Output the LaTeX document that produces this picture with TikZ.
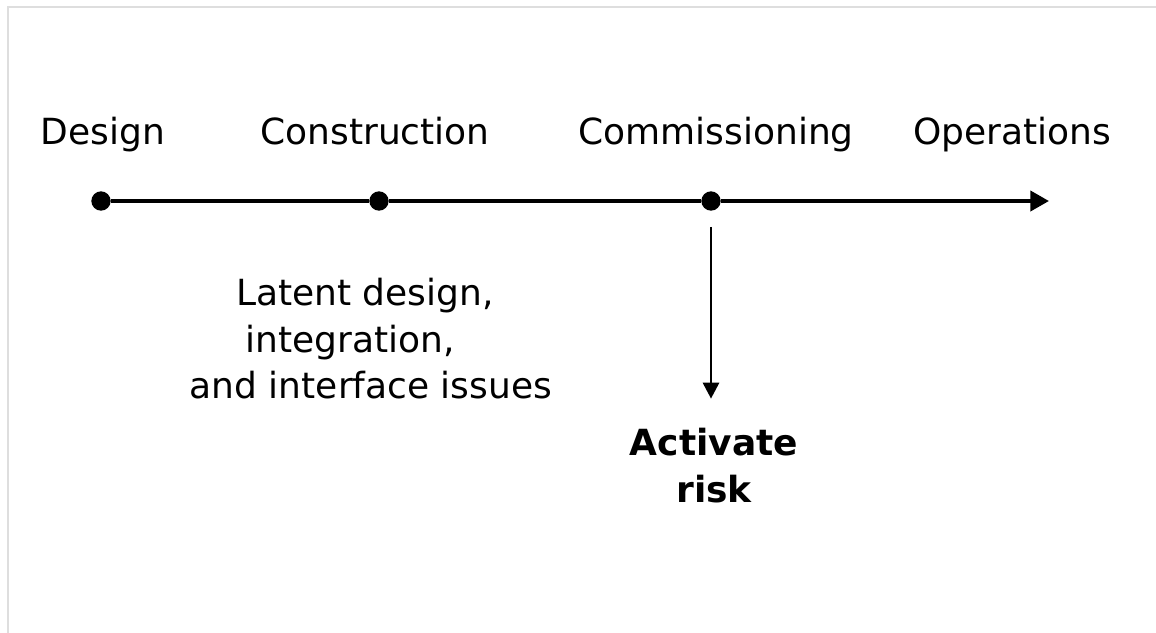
\documentclass[tikz,border=0pt]{standalone}
\usepackage{fontspec}
\setmainfont{DejaVu Sans}
\usepackage{xcolor}
\usetikzlibrary{arrows.meta}

\definecolor{framegray}{RGB}{222,222,222}

\tikzset{
  phase/.style={anchor=base, inner sep=0.75pt, font=\fontsize{27}{35}\selectfont},
  dot/.style={circle, fill=black, inner sep=0pt, minimum size=14.5pt},
  note/.style={anchor=north, inner sep=0pt, align=center, font=\fontsize{27}{35}\selectfont},
}

\begin{document}
\begin{tikzpicture}[x=0.75pt,y=0.75pt,yscale=-1,xscale=1]
\useasboundingbox (0,0) rectangle (1156,632);

%Shape: Frame
\draw [color=framegray, line width=1.5pt] (7.5,650) -- (7.5,7) -- (1170,7) ;

% Text Node
\node (design) at (103,144) [phase] {Design};
% Text Node
\node (construction) at (375,144) [phase] {Construction};
% Text Node
\node (commissioning) at (716,144) [phase] {Commissioning};
% Text Node
\node (operations) at (1012,144) [phase] {Operations};

%Shape: Timeline
\node (p1) at (101,201) [dot] {};
\node (p2) at (379,201) [dot] {};
\node (p3) at (711,201) [dot] {};
\coordinate (tend) at (1049,201);
\draw [line width=3pt, -{Triangle[length=14pt, width=15pt]}] (p1) -- (p2) -- (p3) -- (tend) ;

% Text Node
\node (latent) at (371,278) [note] {Latent design,\kern9pt\\integration,\kern31pt\\and interface issues};
% Text Node
\node (risk) at (714,428) [note, font=\fontsize{27}{35}\selectfont\bfseries] {Activate\\risk};

%Shape: Drop arrow
\draw [line width=2.2pt, -{Triangle[length=12pt, width=12pt]}, shorten <=12pt, shorten >=22pt] (p3) -- (p3 |- risk.north) ;
\end{tikzpicture}
\end{document}
